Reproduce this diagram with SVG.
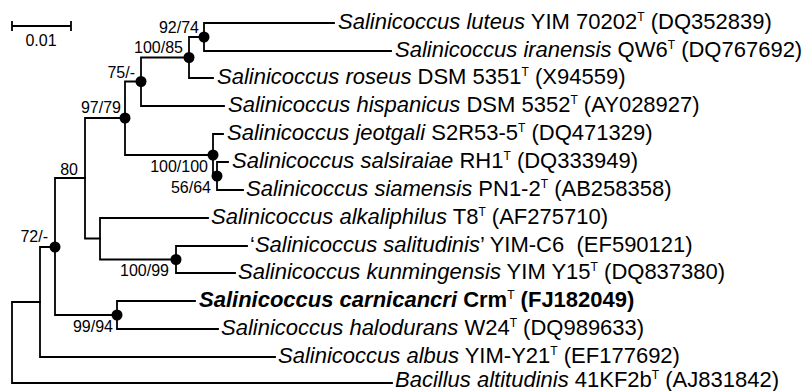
<svg xmlns="http://www.w3.org/2000/svg" width="802" height="391" viewBox="0 0 802 391">
<style>
.br{fill:none;stroke:#000;stroke-width:1.8;stroke-linecap:square}
.dot{fill:#000}
.bs{font-family:"Liberation Sans",Arial,sans-serif;font-size:16px;fill:#000;text-anchor:end}
.lf{font-family:"Liberation Sans",Arial,sans-serif;font-size:22px;fill:#000}
.it{font-style:italic}
.b{font-weight:bold}
.sc{font-family:"Liberation Sans",Arial,sans-serif;font-size:16px;fill:#000;text-anchor:middle}
</style>
<rect width="802" height="391" fill="#fff"/>
<g id="scale-bar">
<path class="br" d="M12,26H71M12,22V30M71,22V30"/>
<text class="sc" x="41" y="46">0.01</text>
</g>
<g id="connectors">
<path class="br" d="M12,302V383M12,302H40M12,383H392"/>
<path class="br" d="M40,247V357M40,247H55M40,357H275"/>
<path class="br" d="M55,178V315M55,178H85M55,315H117"/>
<path class="br" d="M85,118V238.5M85,118H125M85,238.5H100"/>
<path class="br" d="M100,218V259.5M100,218H208M100,259.5H176"/>
<path class="br" d="M176,246V273M176,246H247M176,273H235"/>
<path class="br" d="M117,301V329M117,301H195M117,329H218"/>
<path class="br" d="M125,81.5V155M125,81.5H141M125,155H213"/>
<path class="br" d="M141,57.5V106M141,57.5H189M141,106H224"/>
<path class="br" d="M189,37V78M189,37H204M189,78H213"/>
<path class="br" d="M204,23V51M204,23H334M204,51H391"/>
<path class="br" d="M213,134V176M213,134H223M213,176H217"/>
<path class="br" d="M217,162V190M217,162H228M217,190H243"/>
</g>
<g id="node-92-74"><circle class="dot" cx="204" cy="37" r="5.5"/><text class="bs" x="199" y="33">92/74</text></g>
<g id="node-100-85"><circle class="dot" cx="189" cy="57.5" r="5.5"/><text class="bs" x="183" y="53">100/85</text></g>
<g id="node-75"><circle class="dot" cx="141" cy="81.5" r="5.5"/><text class="bs" x="135" y="78">75/-</text></g>
<g id="node-97-79"><circle class="dot" cx="125" cy="118" r="5.5"/><text class="bs" x="121" y="113">97/79</text></g>
<g id="node-100-100"><circle class="dot" cx="213" cy="155" r="5.5"/><text class="bs" x="208" y="172">100/100</text></g>
<g id="node-56-64"><circle class="dot" cx="217" cy="176" r="5.5"/><text class="bs" x="211" y="193">56/64</text></g>
<g id="node-80"><text class="bs" x="78" y="175">80</text></g>
<g id="node-72"><circle class="dot" cx="55" cy="247" r="5.5"/><text class="bs" x="48" y="242">72/-</text></g>
<g id="node-100-99"><circle class="dot" cx="176" cy="259.5" r="5.5"/><text class="bs" x="169" y="276">100/99</text></g>
<g id="node-99-94"><circle class="dot" cx="117" cy="315" r="5.5"/><text class="bs" x="113" y="332">99/94</text></g>
<g id="leaf-luteus"><text class="lf" x="338" y="29"><tspan class="it">Salinicoccus luteus</tspan> YIM 70202<tspan font-size="12" dy="-8">T</tspan><tspan dy="8"> (DQ352839)</tspan></text></g>
<g id="leaf-iranensis"><text class="lf" x="395" y="57"><tspan class="it">Salinicoccus iranensis</tspan> QW6<tspan font-size="12" dy="-8">T</tspan><tspan dy="8"> (DQ767692)</tspan></text></g>
<g id="leaf-roseus"><text class="lf" x="217" y="84"><tspan class="it">Salinicoccus roseus</tspan> DSM 5351<tspan font-size="12" dy="-8">T</tspan><tspan dy="8"> (X94559)</tspan></text></g>
<g id="leaf-hispanicus"><text class="lf" x="228" y="112"><tspan class="it">Salinicoccus hispanicus</tspan> DSM 5352<tspan font-size="12" dy="-8">T</tspan><tspan dy="8"> (AY028927)</tspan></text></g>
<g id="leaf-jeotgali"><text class="lf" x="227" y="140"><tspan class="it">Salinicoccus jeotgali</tspan> S2R53-5<tspan font-size="12" dy="-8">T</tspan><tspan dy="8"> (DQ471329)</tspan></text></g>
<g id="leaf-salsiraiae"><text class="lf" x="232" y="168"><tspan class="it">Salinicoccus salsiraiae</tspan> RH1<tspan font-size="12" dy="-8">T</tspan><tspan dy="8"> (DQ333949)</tspan></text></g>
<g id="leaf-siamensis"><text class="lf" x="246" y="196"><tspan class="it">Salinicoccus siamensis</tspan> PN1-2<tspan font-size="12" dy="-8">T</tspan><tspan dy="8"> (AB258358)</tspan></text></g>
<g id="leaf-alkaliphilus"><text class="lf" x="211" y="224"><tspan class="it">Salinicoccus alkaliphilus</tspan> T8<tspan font-size="12" dy="-8">T</tspan><tspan dy="8"> (AF275710)</tspan></text></g>
<g id="leaf-salitudinis"><text class="lf" x="250" y="252">‘<tspan class="it">Salinicoccus salitudinis</tspan>’ YIM-C6 &#160;(EF590121)</text></g>
<g id="leaf-kunmingensis"><text class="lf" x="238" y="279"><tspan class="it">Salinicoccus kunmingensis</tspan> YIM Y15<tspan font-size="12" dy="-8">T</tspan><tspan dy="8"> (DQ837380)</tspan></text></g>
<g id="leaf-carnicancri"><text class="lf b" x="199" y="307"><tspan class="it">Salinicoccus carnicancri</tspan> Crm<tspan font-size="12" font-weight="normal" dy="-8">T</tspan><tspan dy="8"> (FJ182049)</tspan></text></g>
<g id="leaf-halodurans"><text class="lf" x="221" y="335"><tspan class="it">Salinicoccus halodurans</tspan> W24<tspan font-size="12" dy="-8">T</tspan><tspan dy="8"> (DQ989633)</tspan></text></g>
<g id="leaf-albus"><text class="lf" x="278" y="363"><tspan class="it">Salinicoccus albus</tspan> YIM-Y21<tspan font-size="12" dy="-8">T</tspan><tspan dy="8"> (EF177692)</tspan></text></g>
<g id="leaf-bacillus"><text class="lf" x="395" y="387"><tspan class="it">Bacillus altitudinis</tspan> 41KF2b<tspan font-size="12" dy="-8">T</tspan><tspan dy="8"> (AJ831842)</tspan></text></g>
</svg>
